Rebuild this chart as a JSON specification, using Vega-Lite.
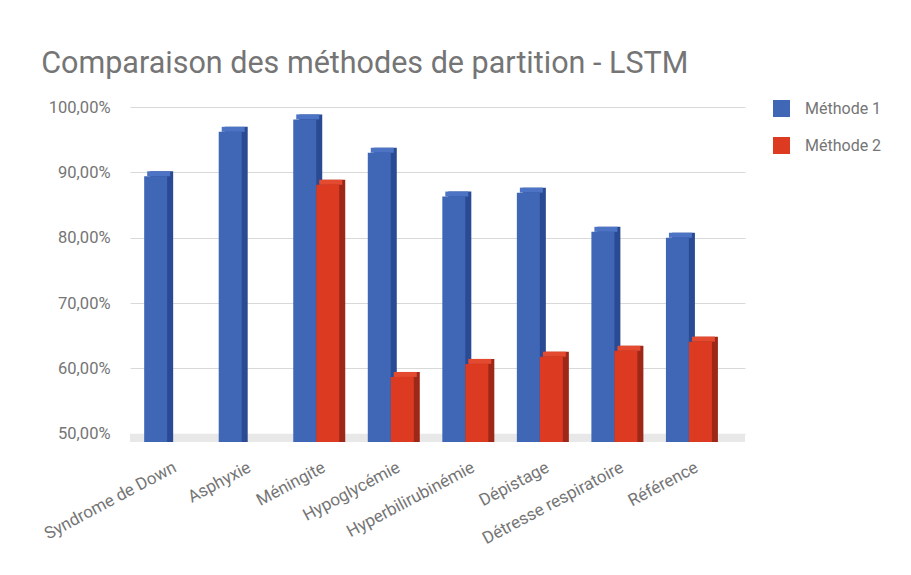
{
  "$schema": "https://vega.github.io/schema/vega-lite/v6.json",
  "width": 615,
  "height": 335,
  "autosize": "none",
  "padding": {"left": 130, "top": 107, "right": 166, "bottom": 133},
  "background": "white",
  "title": {
    "text": "Comparaison des méthodes de partition - LSTM",
    "anchor": "start",
    "frame": "bounds",
    "font": "Roboto",
    "fontSize": 30.5,
    "fontWeight": "normal",
    "color": "#757575",
    "offset": 20,
    "dx": 0
  },
  "datasets": {
    "scores": [
      {"cat": "Syndrome de Down", "methode": "Méthode 1", "value": 0.894},
      {"cat": "Asphyxie", "methode": "Méthode 1", "value": 0.962},
      {"cat": "Méningite", "methode": "Méthode 1", "value": 0.981},
      {"cat": "Méningite", "methode": "Méthode 2", "value": 0.881},
      {"cat": "Hypoglycémie", "methode": "Méthode 1", "value": 0.930},
      {"cat": "Hypoglycémie", "methode": "Méthode 2", "value": 0.587},
      {"cat": "Hyperbilirubinémie", "methode": "Méthode 1", "value": 0.863},
      {"cat": "Hyperbilirubinémie", "methode": "Méthode 2", "value": 0.607},
      {"cat": "Dépistage", "methode": "Méthode 1", "value": 0.869},
      {"cat": "Dépistage", "methode": "Méthode 2", "value": 0.618},
      {"cat": "Détresse respiratoire", "methode": "Méthode 1", "value": 0.809},
      {"cat": "Détresse respiratoire", "methode": "Méthode 2", "value": 0.627},
      {"cat": "Référence", "methode": "Méthode 1", "value": 0.800},
      {"cat": "Référence", "methode": "Méthode 2", "value": 0.641}
    ]
  },
  "layer": [
    {
      "data": {"values": [{"floor": 1}]},
      "mark": {"type": "rect", "color": "#e8e8e8"},
      "encoding": {
        "y": {"datum": 0.5, "type": "quantitative"},
        "y2": {"datum": 0.4875}
      }
    },
    {
      "data": {"name": "scores"},
      "transform": [{"filter": "datum.methode == 'Méthode 1'"}],
      "mark": {"type": "bar", "width": {"band": 0.5}, "xOffset": -5.5, "yOffset": -5, "color": "#2a4a93"},
      "encoding": {
        "x": {"field": "cat", "type": "nominal", "sort": null},
        "y": {"field": "value", "type": "quantitative"},
        "y2": {"datum": 0.4875}
      }
    },
    {
      "data": {"name": "scores"},
      "transform": [{"filter": "datum.methode == 'Méthode 2'"}],
      "mark": {"type": "bar", "width": {"band": 0.5}, "xOffset": 17.5, "yOffset": -5, "color": "#9e2817"},
      "encoding": {
        "x": {"field": "cat", "type": "nominal", "sort": null},
        "y": {"field": "value", "type": "quantitative"},
        "y2": {"datum": 0.4875}
      }
    },
    {
      "data": {"name": "scores"},
      "transform": [{"filter": "datum.methode == 'Méthode 1'"}],
      "mark": {"type": "bar", "width": {"band": 0.5}, "xOffset": -8.5, "yOffset": -5, "y2Offset": 0, "color": "#4d74c4"},
      "encoding": {
        "x": {"field": "cat", "type": "nominal", "sort": null},
        "y": {"field": "value", "type": "quantitative"},
        "y2": {"field": "value"}
      }
    },
    {
      "data": {"name": "scores"},
      "transform": [{"filter": "datum.methode == 'Méthode 2'"}],
      "mark": {"type": "bar", "width": {"band": 0.5}, "xOffset": 14.5, "yOffset": -5, "y2Offset": 0, "color": "#e34a30"},
      "encoding": {
        "x": {"field": "cat", "type": "nominal", "sort": null},
        "y": {"field": "value", "type": "quantitative"},
        "y2": {"field": "value"}
      }
    },
    {
      "data": {"name": "scores"},
      "mark": {"type": "bar"},
      "encoding": {
        "x": {
          "field": "cat",
          "type": "nominal",
          "sort": null,
          "scale": {"paddingInner": 0.383, "paddingOuter": 0.317, "align": 0.3},
          "axis": {
            "title": null,
            "labelAngle": -28,
            "labelFont": "Roboto",
            "labelFontSize": 17,
            "labelColor": "#757575",
            "labelPadding": 24,
            "labelOffset": 8,
            "ticks": false,
            "domain": false,
            "grid": false
          }
        },
        "xOffset": {"field": "methode", "type": "nominal", "scale": {"paddingInner": 0, "paddingOuter": 0}},
        "y": {
          "field": "value",
          "type": "quantitative",
          "scale": {"domain": [0.4875, 1.0], "nice": false, "zero": false},
          "axis": {
            "title": null,
            "values": [0.5, 0.6, 0.7, 0.8, 0.9, 1.0],
            "labelExpr": "replace(format(datum.value, '.2%'), '.', ',')",
            "labelFont": "Roboto",
            "labelFontSize": 16.5,
            "labelColor": "#757575",
            "labelPadding": 20,
            "ticks": false,
            "domain": false,
            "grid": true,
            "gridColor": "#d9d9d9",
            "gridWidth": 1
          }
        },
        "y2": {"datum": 0.4875},
        "color": {
          "field": "methode",
          "type": "nominal",
          "scale": {"domain": ["Méthode 1", "Méthode 2"], "range": ["#3f67b6", "#dc3b22"]},
          "legend": {
            "title": null,
            "orient": "none",
            "legendX": 643,
            "legendY": -7,
            "symbolType": "square",
            "symbolSize": 289,
            "symbolStrokeWidth": 0,
            "symbolOpacity": 1,
            "rowPadding": 20,
            "labelOffset": 15,
            "labelFont": "Roboto",
            "labelFontSize": 16,
            "labelColor": "#757575",
            "padding": 0
          }
        }
      }
    }
  ],
  "config": {
    "view": {"stroke": null},
    "font": "Roboto"
  }
}
